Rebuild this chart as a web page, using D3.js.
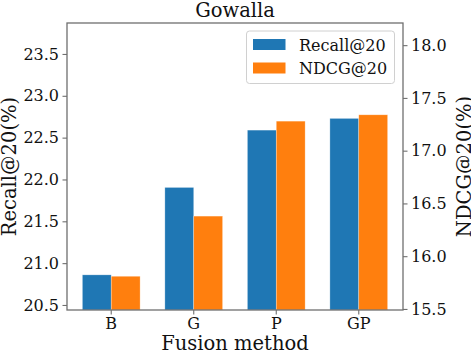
<!DOCTYPE html>
<html>
<head>
<meta charset="utf-8">
<script src="https://cdn.jsdelivr.net/npm/d3@7"></script>
<style>
  html, body { margin: 0; padding: 0; background: #fff; }
  svg { display: block; font-family: "DejaVu Serif", serif; }
</style>
</head>
<body>
<div id="chart"></div>
<script>
// Data
const categories = ['B', 'G', 'P', 'GP'];
const recall = [20.86, 21.905, 22.59, 22.73];   // left axis
const ndcg   = [15.81, 16.38, 17.28, 17.34];    // right axis
const leftTicks  = [20.5, 21.0, 21.5, 22.0, 22.5, 23.0, 23.5];
const rightTicks = [15.5, 16.0, 16.5, 17.0, 17.5, 18.0];
const seriesNames = ['Recall@20', 'NDCG@20'];
const colors = ['#1f77b4', '#ff7f0e'];

const W = 471, H = 354;
const M = { top: 23, right: 68, bottom: 44, left: 67 };
const innerW = W - M.left - M.right;
const innerH = H - M.top - M.bottom;
const spine = '#6f6f6f';

const svg = d3.select('#chart').append('svg')
  .attr('width', W).attr('height', H);

const g = svg.append('g').attr('transform', `translate(${M.left},${M.top})`);

const x = d3.scaleBand().domain(categories).range([0, innerW])
  .paddingInner(0.3).paddingOuter(0.186);
const xSub = d3.scaleBand().domain([0, 1]).range([0, x.bandwidth()]);

const yL = d3.scaleLinear().domain([20.44, 23.87]).range([innerH, 0]);
const yR = d3.scaleLinear().domain([15.49, 18.21]).range([innerH, 0]);

// Bars
const scales = [yL, yR];
[recall, ndcg].forEach((vals, s) => {
  g.selectAll(null).data(vals).enter().append('rect')
    .attr('x', (d, i) => x(categories[i]) + xSub(s))
    .attr('width', xSub.bandwidth())
    .attr('y', d => scales[s](d))
    .attr('height', d => innerH - scales[s](d))
    .attr('fill', colors[s])
    .attr('stroke', '#fff').attr('stroke-width', 0.6).attr('stroke-opacity', 0.5);
});

// Axes
function styleAxis(sel) {
  sel.select('.domain').remove();
  sel.selectAll('.tick line').attr('stroke', spine).attr('stroke-width', 1.1);
  sel.selectAll('.tick text').attr('fill', '#111').attr('font-size', '16px')
    .attr('font-family', '"DejaVu Serif", serif');
}

g.append('g').attr('transform', `translate(0,${innerH})`)
  .call(d3.axisBottom(x).tickSize(4.5).tickPadding(3.5))
  .call(styleAxis);

g.append('g')
  .call(d3.axisLeft(yL).tickValues(leftTicks).tickFormat(d3.format('.1f')).tickSize(4.5).tickPadding(3.5))
  .call(styleAxis);

g.append('g').attr('transform', `translate(${innerW},0)`)
  .call(d3.axisRight(yR).tickValues(rightTicks).tickFormat(d3.format('.1f')).tickSize(4.5).tickPadding(3.5))
  .call(styleAxis);

// Spines
g.append('rect')
  .attr('width', innerW).attr('height', innerH)
  .attr('fill', 'none').attr('stroke', spine).attr('stroke-width', 1.3);

// Title and labels
svg.append('text')
  .attr('x', M.left + innerW / 2).attr('y', 16.5)
  .attr('text-anchor', 'middle').attr('font-size', '19.5px').attr('fill', '#111')
  .text('Gowalla');

svg.append('text')
  .attr('x', M.left + innerW / 2).attr('y', 349.5)
  .attr('text-anchor', 'middle').attr('font-size', '19.5px').attr('fill', '#111')
  .text('Fusion method');

svg.append('text')
  .attr('transform', `translate(15.5,${M.top + innerH / 2}) rotate(-90)`)
  .attr('text-anchor', 'middle').attr('font-size', '19.5px').attr('fill', '#111')
  .text('Recall@20(%)');

svg.append('text')
  .attr('transform', `translate(470.5,${M.top + innerH / 2}) rotate(-90)`)
  .attr('text-anchor', 'middle').attr('font-size', '19.5px').attr('fill', '#111')
  .text('NDCG@20(%)');

// Legend
const lg = svg.append('g').attr('transform', 'translate(246.5,31)');
lg.append('rect')
  .attr('width', 148).attr('height', 52.5).attr('rx', 3)
  .attr('fill', '#fff').attr('fill-opacity', 0.8)
  .attr('stroke', '#d0d0d0').attr('stroke-width', 1);
seriesNames.forEach((name, i) => {
  lg.append('rect')
    .attr('x', 6.5).attr('y', 8 + i * 23.5)
    .attr('width', 32.5).attr('height', 11)
    .attr('fill', colors[i]);
  lg.append('text')
    .attr('x', 52.5).attr('y', 19.7 + i * 23.5)
    .attr('font-size', '16px').attr('fill', '#111')
    .text(name);
});
</script>
</body>
</html>
